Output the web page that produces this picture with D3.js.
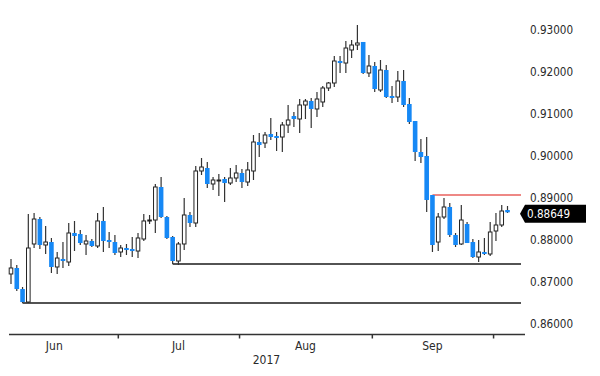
<!DOCTYPE html>
<html>
<head>
<meta charset="utf-8">
<script src="https://cdn.jsdelivr.net/npm/d3@7"></script>
<style>
  html, body { margin: 0; padding: 0; background: #fff; }
  svg { display: block; }
  text { font-family: "DejaVu Sans Condensed", "Liberation Sans", sans-serif; }
</style>
</head>
<body>
<svg id="chart" width="600" height="376"></svg>
<script>
// ---- Data (daily candles, Jun 6 – Oct 4 2017) ----
const opens = [
  0.87177,0.87320,0.86818,0.86508,0.87893,0.88489,0.87869,0.87940,0.87344,0.87535,
  0.87463,0.88155,0.88131,0.87893,0.87964,0.87845,0.88442,0.87988,0.87940,0.87702,
  0.87797,0.87773,0.87725,0.88012,0.88442,0.88465,0.89253,0.88537,0.88060,0.87487,
  0.87893,0.88585,0.88394,0.89635,0.89706,0.89325,0.89410,0.89444,0.89348,0.89468,
  0.89587,0.89372,0.89635,0.90327,0.90303,0.90518,0.90470,0.90446,0.90733,0.90947,
  0.90876,0.91210,0.91305,0.91115,0.91282,0.91616,0.91735,0.92260,0.92212,0.92523,
  0.92642,0.92714,0.91974,0.92141,0.91568,0.92045,0.91425,0.91401,0.91783,0.91234,
  0.90828,0.90088,0.89993,0.89062,0.87940,0.88537,0.88776,0.88107,0.87893,0.88370,
  0.87940,0.87582,0.87702,0.87654,0.88203,0.88346,0.88704
];
const highs = [
  0.87535,0.87391,0.86866,0.88609,0.88632,0.88537,0.88322,0.88036,0.87702,0.87940,
  0.88394,0.88442,0.88227,0.88107,0.88012,0.88632,0.88776,0.88179,0.88107,0.87869,
  0.87893,0.88060,0.88155,0.88609,0.88585,0.89325,0.89492,0.88561,0.88084,0.87940,
  0.88990,0.88656,0.89754,0.89945,0.89850,0.89492,0.89563,0.89492,0.89706,0.89778,
  0.89683,0.89850,0.90494,0.90542,0.90566,0.90900,0.90566,0.90804,0.91210,0.91043,
  0.91353,0.91353,0.91377,0.91520,0.91663,0.91759,0.92379,0.92379,0.92737,0.92761,
  0.93119,0.92714,0.92403,0.92236,0.92284,0.92165,0.91663,0.92021,0.92045,0.91377,
  0.90828,0.90399,0.90446,0.89062,0.88632,0.88990,0.88871,0.88155,0.88823,0.88418,
  0.88012,0.87988,0.88036,0.88418,0.88632,0.88823,0.88799
];
const lows = [
  0.86938,0.86771,0.86484,0.86484,0.87797,0.87773,0.87654,0.87201,0.87177,0.87320,
  0.87368,0.87725,0.87869,0.87630,0.87821,0.87797,0.87702,0.87797,0.87630,0.87582,
  0.87630,0.87582,0.87558,0.87964,0.88370,0.88155,0.88513,0.88012,0.87415,0.87391,
  0.87749,0.88298,0.88298,0.89539,0.89229,0.89181,0.89038,0.88895,0.89301,0.89372,
  0.89229,0.89277,0.89420,0.89969,0.90184,0.90375,0.90112,0.90088,0.90542,0.90685,
  0.90542,0.90876,0.90661,0.90924,0.91162,0.91544,0.91640,0.91974,0.91974,0.92332,
  0.92523,0.91950,0.91878,0.91520,0.91520,0.91377,0.91258,0.91282,0.91162,0.90757,
  0.89874,0.89826,0.88656,0.87702,0.87725,0.88489,0.88060,0.87821,0.87869,0.87916,
  0.87558,0.87463,0.87630,0.87606,0.87964,0.88298,0.88632
];
const closes = [
  0.87320,0.86818,0.86508,0.87797,0.88489,0.87869,0.87940,0.87344,0.87558,0.87487,
  0.88155,0.88084,0.87916,0.87964,0.87845,0.88442,0.87964,0.87940,0.87678,0.87797,
  0.87749,0.87725,0.88036,0.88442,0.88465,0.89253,0.88537,0.88036,0.87487,0.87893,
  0.88585,0.88394,0.89635,0.89730,0.89325,0.89420,0.89420,0.89348,0.89468,0.89587,
  0.89372,0.89659,0.90327,0.90255,0.90494,0.90446,0.90422,0.90733,0.90852,0.90876,
  0.91210,0.91305,0.91115,0.91353,0.91616,0.91735,0.92260,0.92212,0.92570,0.92642,
  0.92690,0.91974,0.92141,0.91592,0.92045,0.91401,0.91377,0.91783,0.91210,0.90804,
  0.90088,0.89969,0.88943,0.87869,0.88537,0.88776,0.88107,0.87869,0.88465,0.87916,
  0.87582,0.87702,0.87654,0.88179,0.88346,0.88680,0.88649
];
const yTicks = [0.86, 0.87, 0.88, 0.89, 0.90, 0.91, 0.92, 0.93];
const monthNames = ["Jun", "Jul", "Aug", "Sep"];
const yearLabel = "2017";
const lastPrice = 0.88649;
// horizontal levels: price and index of the candle they start from
const levelPrices = [0.86484, 0.87415, 0.89062];
const levelStarts = [2, 28, 73];

// ---- Trading days (weekdays) ----
const weekday = d3.timeDay.filter(d => d.getDay() !== 0 && d.getDay() !== 6);
const dates = weekday.range(new Date(2017, 5, 6), new Date(2017, 9, 5));
const n = closes.length;

// ---- Scales ----
const x = d3.scaleLinear().domain([0, n - 1]).range([11, 507.5]);
const y = d3.scaleLinear().domain([0.86, 0.93]).range([323.3, 30]);

const svg = d3.select("#chart");
const blue = "#1688f5";
const FS = 11.6;

// ---- Level lines ----
const levelColors = ["#1a1a1a", "#1a1a1a", "#e8605c"];
svg.append("g").selectAll("line").data(levelPrices).join("line")
  .attr("x1", (d, i) => x(levelStarts[i]))
  .attr("x2", 521)
  .attr("y1", d => y(d)).attr("y2", d => y(d))
  .attr("stroke", (d, i) => levelColors[i])
  .attr("stroke-width", 1.5);

// ---- Candles ----
const bw = 4.6;
const cg = svg.append("g").selectAll("g").data(d3.range(n)).join("g");
cg.append("line")
  .attr("x1", i => x(i)).attr("x2", i => x(i))
  .attr("y1", i => y(highs[i])).attr("y2", i => y(lows[i]))
  .attr("stroke", "#333").attr("stroke-width", 1.2);
cg.append("rect")
  .attr("x", i => closes[i] < opens[i] ? x(i) - bw / 2 : x(i) - bw / 2 + 0.5)
  .attr("width", i => closes[i] < opens[i] ? bw : bw - 1)
  .attr("y", i => y(Math.max(opens[i], closes[i])))
  .attr("height", i => Math.max(1, Math.abs(y(opens[i]) - y(closes[i]))))
  .attr("fill", i => closes[i] < opens[i] ? blue : "#fff")
  .attr("stroke", i => closes[i] < opens[i] ? "none" : "#222")
  .attr("stroke-width", 1);

// ---- Y axis labels (right) ----
const yAxis = d3.axisRight(y).tickValues(yTicks).tickSize(0).tickPadding(0)
  .tickFormat(d3.format(".5f"));
const ya = svg.append("g").attr("transform", "translate(530,0)").call(yAxis);
ya.select(".domain").remove();
ya.selectAll("text").attr("font-size", FS).attr("fill", "#2a2a2a")
  .attr("font-family", '"DejaVu Sans Condensed", sans-serif');

// ---- Last price tag ----
const cy = y(lastPrice) + 1.5;
svg.append("path")
  .attr("d", `M520,${cy} L525,${cy - 9} L586,${cy - 9} L586,${cy + 9} L525,${cy + 9} Z`)
  .attr("fill", "#000");
svg.append("text").attr("x", 527).attr("y", cy).attr("dy", "0.35em")
  .attr("font-size", FS).attr("fill", "#fff").text(d3.format(".5f")(lastPrice));

// ---- X axis ----
const boundaries = [];
for (let i = 1; i < n; i++) {
  if (dates[i].getMonth() !== dates[i - 1].getMonth()) boundaries.push(i - 0.5);
}
const xAxis = d3.axisBottom(x).tickValues(boundaries).tickSize(4).tickFormat("");
const xa = svg.append("g").attr("transform", "translate(0,334.5)").call(xAxis);
xa.select(".domain").remove();
xa.selectAll("line").attr("stroke", "#333").attr("stroke-width", 1.5);
svg.append("line").attr("x1", 9).attr("x2", 525).attr("y1", 334.5).attr("y2", 334.5)
  .attr("stroke", "#333").attr("stroke-width", 1.5);

// month label centres: midpoint of each month's weekday span
const firstJun = -weekday.range(new Date(2017, 5, 1), dates[0]).length;
const starts = [firstJun - 0.5, ...boundaries];
svg.append("g").selectAll("text").data(monthNames).join("text")
  .attr("x", (d, i) => x((starts[i] + starts[i + 1]) / 2))
  .attr("y", 350)
  .attr("text-anchor", "middle")
  .attr("font-size", FS + 0.4).attr("fill", "#2a2a2a")
  .text(d => d);
svg.append("text")
  .attr("x", x((starts[2] + starts[3]) / 2) - 39)
  .attr("y", 364).attr("text-anchor", "middle")
  .attr("font-size", FS + 0.4).attr("fill", "#2a2a2a")
  .text(yearLabel);
</script>
</body>
</html>
